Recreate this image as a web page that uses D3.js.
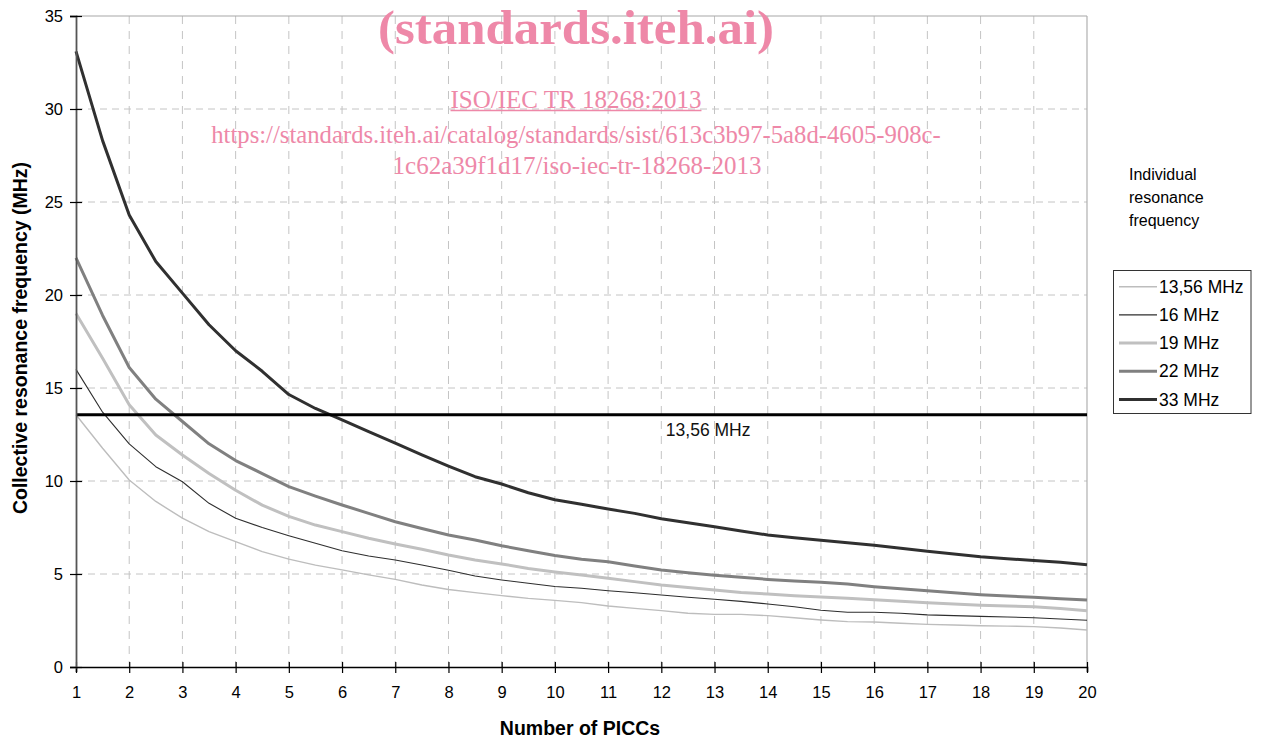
<!DOCTYPE html>
<html>
<head>
<meta charset="utf-8">
<script src="https://cdn.jsdelivr.net/npm/d3@7"></script>
<style>
  html, body { margin: 0; padding: 0; background: #fff; }
  svg { display: block; }
</style>
</head>
<body>
<svg id="chart" width="1266" height="740"></svg>
<script>
// ---------- data ----------
const piccCounts = [1,1.5,2,2.5,3,3.5,4,4.5,5,5.5,6,6.5,7,7.5,8,8.5,9,9.5,10,10.5,11,11.5,12,12.5,13,13.5,14,14.5,15,15.5,16,16.5,17,17.5,18,18.5,19,19.5,20];
const seriesNames = ["13,56 MHz", "16 MHz", "19 MHz", "22 MHz", "33 MHz"];
const f1356 = [13.56,11.76,10.05,8.9,8.0,7.28,6.74,6.2,5.8,5.48,5.22,4.95,4.71,4.41,4.17,4.0,3.84,3.69,3.58,3.46,3.28,3.15,3.03,2.89,2.83,2.83,2.76,2.65,2.53,2.44,2.42,2.35,2.29,2.26,2.22,2.2,2.17,2.1,1.99];
const f16   = [16.0,13.7,12.0,10.77,9.96,8.8,8.0,7.5,7.06,6.65,6.25,5.97,5.75,5.48,5.2,4.89,4.68,4.5,4.33,4.23,4.1,3.99,3.87,3.75,3.64,3.53,3.39,3.24,3.05,2.94,2.94,2.89,2.8,2.76,2.72,2.69,2.65,2.58,2.51];
const f19   = [19.0,16.6,14.1,12.47,11.4,10.4,9.5,8.7,8.1,7.63,7.28,6.92,6.61,6.33,6.02,5.75,5.54,5.3,5.11,4.95,4.77,4.59,4.41,4.28,4.14,4.01,3.92,3.83,3.77,3.69,3.62,3.53,3.46,3.39,3.32,3.28,3.24,3.15,3.03];
const f22   = [22.0,18.9,16.1,14.4,13.2,12.0,11.1,10.4,9.7,9.19,8.71,8.26,7.81,7.45,7.1,6.83,6.52,6.25,6.0,5.79,5.66,5.43,5.22,5.07,4.93,4.82,4.71,4.62,4.55,4.46,4.32,4.21,4.1,3.99,3.89,3.82,3.75,3.67,3.6];
const f33   = [33.1,28.3,24.3,21.8,20.1,18.4,17.0,15.9,14.65,13.9,13.28,12.65,12.03,11.4,10.8,10.23,9.84,9.37,8.99,8.75,8.49,8.26,7.97,7.76,7.54,7.31,7.1,6.95,6.81,6.68,6.54,6.38,6.22,6.08,5.93,5.82,5.73,5.63,5.5];
const referenceValue = 13.56;
const referenceLabel = "13,56 MHz";
const xTicks = [1,2,3,4,5,6,7,8,9,10,11,12,13,14,15,16,17,18,19,20];
const yTicks = [0,5,10,15,20,25,30,35];
const legendTitle = ["Individual", "resonance", "frequency"];
const watermark = ["(standards.iteh.ai)", "ISO/IEC TR 18268:2013",
  "https://standards.iteh.ai/catalog/standards/sist/613c3b97-5a8d-4605-908c-",
  "1c62a39f1d17/iso-iec-tr-18268-2013"];

// ---------- styles ----------
const seriesValues = [f1356, f16, f19, f22, f33];
const seriesStyle = [
  {color: "#bdbdbd", width: 1.4},
  {color: "#2e2e2e", width: 1.1},
  {color: "#c0c0c0", width: 3},
  {color: "#808080", width: 3},
  {color: "#303030", width: 3}
];

const svg = d3.select("#chart");
const plotL = 76, plotR = 1087, plotT = 16, plotB = 667;
const x = d3.scaleLinear().domain([1, 20]).range([plotL, plotR]);
const y = d3.scaleLinear().domain([0, 35]).range([plotB, plotT]);
const sans = "'Liberation Sans', Arial, sans-serif";
const serif = "'Liberation Serif', 'Times New Roman', serif";

// gridlines
const grid = svg.append("g");
grid.selectAll("line.h").data(yTicks.filter(d => d > 0 && d < 35)).enter().append("line")
  .attr("x1", plotL).attr("x2", plotR).attr("y1", d => y(d)).attr("y2", d => y(d))
  .attr("stroke", "#c4c4c4").attr("stroke-width", 1).attr("stroke-dasharray", "7,5");
grid.selectAll("line.v").data(xTicks.filter(d => d > 1 && d < 20)).enter().append("line")
  .attr("y1", plotT).attr("y2", plotB).attr("x1", d => x(d)).attr("x2", d => x(d))
  .attr("stroke", "#c4c4c4").attr("stroke-width", 1).attr("stroke-dasharray", "8,7");

// top / right border
svg.append("line").attr("x1", plotL).attr("x2", plotR).attr("y1", y(35)).attr("y2", y(35))
  .attr("stroke", "#a8a8a8").attr("stroke-width", 1.2);
svg.append("line").attr("x1", plotR).attr("x2", plotR).attr("y1", plotT).attr("y2", plotB)
  .attr("stroke", "#b0b0b0").attr("stroke-width", 1.2);

// series
const line = d3.line().x(d => x(d[0])).y(d => y(d[1]));
seriesValues.forEach((vals, i) => {
  svg.append("path")
    .datum(piccCounts.map((p, j) => [p, vals[j]]))
    .attr("d", line).attr("fill", "none")
    .attr("stroke", seriesStyle[i].color).attr("stroke-width", seriesStyle[i].width)
    .attr("stroke-linejoin", "round");
});

// reference line
svg.append("line").attr("x1", x(1)).attr("x2", x(20))
  .attr("y1", y(referenceValue)).attr("y2", y(referenceValue))
  .attr("stroke", "#000").attr("stroke-width", 3);
svg.append("text").attr("x", x(12.88)).attr("y", y(referenceValue) + 21)
  .attr("text-anchor", "middle").attr("font-family", sans).attr("font-size", 17.5)
  .attr("fill", "#111").text(referenceLabel);

// axes
const xAxis = svg.append("g").attr("transform", `translate(0,${plotB})`)
  .call(d3.axisBottom(x).tickValues(xTicks).tickSize(5).tickFormat(d3.format("d")));
xAxis.select(".domain").attr("stroke", "#000").attr("stroke-width", 1.6);
xAxis.selectAll(".tick line").attr("stroke", "#000").attr("stroke-width", 1.2).attr("y1", -5).attr("y2", 6);
xAxis.selectAll(".tick text").attr("font-family", sans).attr("font-size", 16.5).attr("fill", "#000")
  .attr("dy", null).attr("y", 31);

const yAxis = svg.append("g").attr("transform", `translate(${plotL},0)`)
  .call(d3.axisLeft(y).tickValues(yTicks).tickSize(6).tickFormat(d3.format("d")));
yAxis.select(".domain").attr("stroke", "#555").attr("stroke-width", 1.8);
yAxis.selectAll(".tick line").attr("stroke", "#000").attr("stroke-width", 1.2).attr("x1", 6).attr("x2", -6);
yAxis.selectAll(".tick text").attr("font-family", sans).attr("font-size", 16.5).attr("fill", "#000")
  .attr("x", -13).attr("dy", "0.36em");

// axis titles
svg.append("text").attr("x", 580).attr("y", 735).attr("text-anchor", "middle")
  .attr("font-family", sans).attr("font-size", 19.5).attr("font-weight", "bold").attr("fill", "#000")
  .text("Number of PICCs");
svg.append("text").attr("transform", "translate(27,338) rotate(-90)").attr("text-anchor", "middle")
  .attr("font-family", sans).attr("font-size", 19.5).attr("font-weight", "bold").attr("fill", "#000")
  .text("Collective resonance frequency (MHz)");

// legend
const lg = svg.append("g");
lg.selectAll("text.t").data(legendTitle).enter().append("text")
  .attr("x", 1129).attr("y", (d, i) => 180 + i * 23)
  .attr("font-family", sans).attr("font-size", 16).attr("fill", "#000").text(d => d);
lg.append("rect").attr("x", 1113.5).attr("y", 270.5).attr("width", 137.5).attr("height", 143)
  .attr("fill", "#fff").attr("stroke", "#333").attr("stroke-width", 1);
seriesNames.forEach((name, i) => {
  const yy = 286.7 + i * 28.2;
  lg.append("line").attr("x1", 1119).attr("x2", 1157).attr("y1", yy).attr("y2", yy)
    .attr("stroke", seriesStyle[i].color).attr("stroke-width", seriesStyle[i].width);
  lg.append("text").attr("x", 1159).attr("y", yy + 6)
    .attr("font-family", sans).attr("font-size", 17.5).attr("fill", "#000").text(name);
});

// watermark
const pink = "#ee88a8";
svg.append("text").attr("x", 576).attr("y", 44).attr("text-anchor", "middle")
  .attr("font-family", serif).attr("font-weight", "bold").attr("font-size", 49)
  .attr("textLength", 396).attr("lengthAdjust", "spacingAndGlyphs")
  .attr("fill", pink).text(watermark[0]);
const iso = svg.append("text").attr("x", 576).attr("y", 108).attr("text-anchor", "middle")
  .attr("font-family", serif).attr("font-size", 25).attr("fill", pink).text(watermark[1]);
const isoW = iso.node().getComputedTextLength();
svg.append("line").attr("x1", 576 - isoW / 2).attr("x2", 576 + isoW / 2)
  .attr("y1", 110.5).attr("y2", 110.5).attr("stroke", pink).attr("stroke-width", 1.3);
svg.append("text").attr("x", 576).attr("y", 143).attr("text-anchor", "middle")
  .attr("font-family", serif).attr("font-size", 24.7).attr("fill", pink).text(watermark[2]);
svg.append("text").attr("x", 577).attr("y", 174).attr("text-anchor", "middle")
  .attr("font-family", serif).attr("font-size", 25).attr("fill", pink).text(watermark[3]);
</script>
</body>
</html>
